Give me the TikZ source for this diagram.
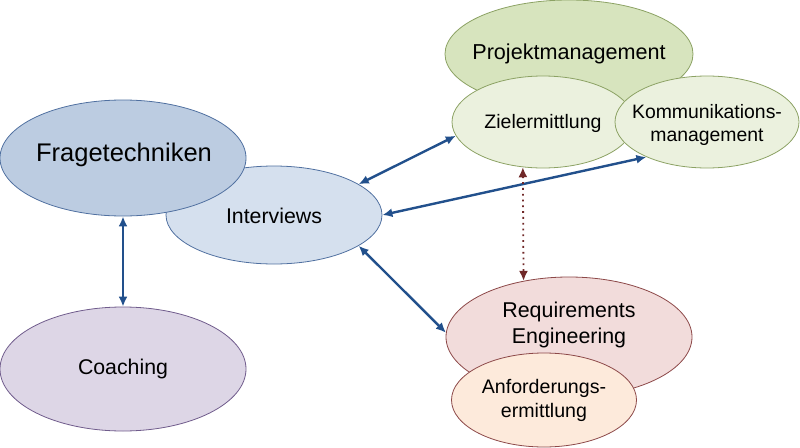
\documentclass[tikz,border=0pt]{standalone}
\usepackage{fontspec}
\setmainfont{Liberation Sans}
\usetikzlibrary{shapes.geometric,arrows.meta}
\definecolor{fFill}{RGB}{188,204,225}
\definecolor{iFill}{RGB}{213,224,238}
\definecolor{bStroke}{RGB}{80,112,160}
\definecolor{cFill}{RGB}{221,214,230}
\definecolor{cStroke}{RGB}{112,92,140}
\definecolor{pFill}{RGB}{215,228,190}
\definecolor{zFill}{RGB}{235,241,222}
\definecolor{gStroke}{RGB}{140,162,100}
\definecolor{rFill}{RGB}{242,220,219}
\definecolor{aFill}{RGB}{253,234,219}
\definecolor{rStroke}{RGB}{140,72,72}
\definecolor{arrBlue}{RGB}{34,80,140}
\definecolor{arrRed}{RGB}{112,40,40}
\tikzset{
  ell/.style={ellipse, draw, line width=0.8pt, inner sep=0pt},
  lbl/.style={align=center, inner sep=0pt, text=black},
  link/.style={draw=arrBlue, line width=2.4pt, {Latex[length=10pt,width=9pt]}-{Latex[length=10pt,width=9pt]}},
  dotlink/.style={draw=arrRed, line width=1.8pt, dash pattern=on 1.8pt off 4pt, {Latex[length=10pt,width=9pt]}-{Latex[length=10pt,width=9pt]}}
}
\begin{document}
\begin{tikzpicture}[x=1pt,y=-1pt]
\useasboundingbox (0,0) rectangle (800,447);
% Projektmanagement group
\node[ell, fill=pFill, draw=gStroke, minimum width=248pt, minimum height=108pt] (P) at (569,54) {};
\node[lbl, font=\fontsize{21.6}{26}\selectfont] (Pt) at (569,54) {Projektmanagement};
\node[ell, fill=zFill, draw=gStroke, minimum width=182pt, minimum height=92pt] (Z) at (543,122) {};
\node[lbl, font=\fontsize{19.5}{23}\selectfont] (Zt) at (543,123) {Zielermittlung};
\node[ell, fill=zFill, draw=gStroke, minimum width=184pt, minimum height=92pt] (K) at (707,122) {};
\node[lbl, font=\fontsize{19.4}{22.4}\selectfont] (Kt) at (707,125) {Kommunikations-\\management};
% Interviews / Fragetechniken
\node[ell, fill=iFill, draw=bStroke, minimum width=216pt, minimum height=98pt] (I) at (274,215) {};
\node[lbl, font=\fontsize{21.3}{26}\selectfont] (It) at (274,216) {Interviews};
\node[ell, fill=fFill, draw=bStroke, minimum width=246pt, minimum height=116pt] (F) at (123,158) {};
\node[lbl, font=\fontsize{25.5}{30}\selectfont] (Ft) at (124,155) {Fragetechniken};
% Coaching
\node[ell, fill=cFill, draw=cStroke, minimum width=246pt, minimum height=124pt] (C) at (123,369) {};
\node[lbl, font=\fontsize{21.3}{26}\selectfont] (Ct) at (123,369) {Coaching};
% Requirements Engineering
\node[ell, fill=rFill, draw=rStroke, minimum width=246pt, minimum height=120pt] (R) at (569,337) {};
\node[lbl, font=\fontsize{21.4}{26.7}\selectfont] (Rt) at (569,325) {Requirements\\Engineering};
\node[ell, fill=aFill, draw=rStroke, minimum width=185pt, minimum height=94pt] (A) at (544,400) {};
\node[lbl, font=\fontsize{19.6}{24}\selectfont] (At) at (544,400) {Anforderungs-\\ermittlung};
% connectors
\draw[link] (F.south) -- (C.north);
\draw[link] (I.20.4) -- (Z.189.9);
\draw[link] (I.0.5) -- (K.210.5);
\draw[link] (I.-20.6) -- (R.178);
\draw[dotlink] (Z.246) -- (R.129.5);
\end{tikzpicture}
\end{document}
